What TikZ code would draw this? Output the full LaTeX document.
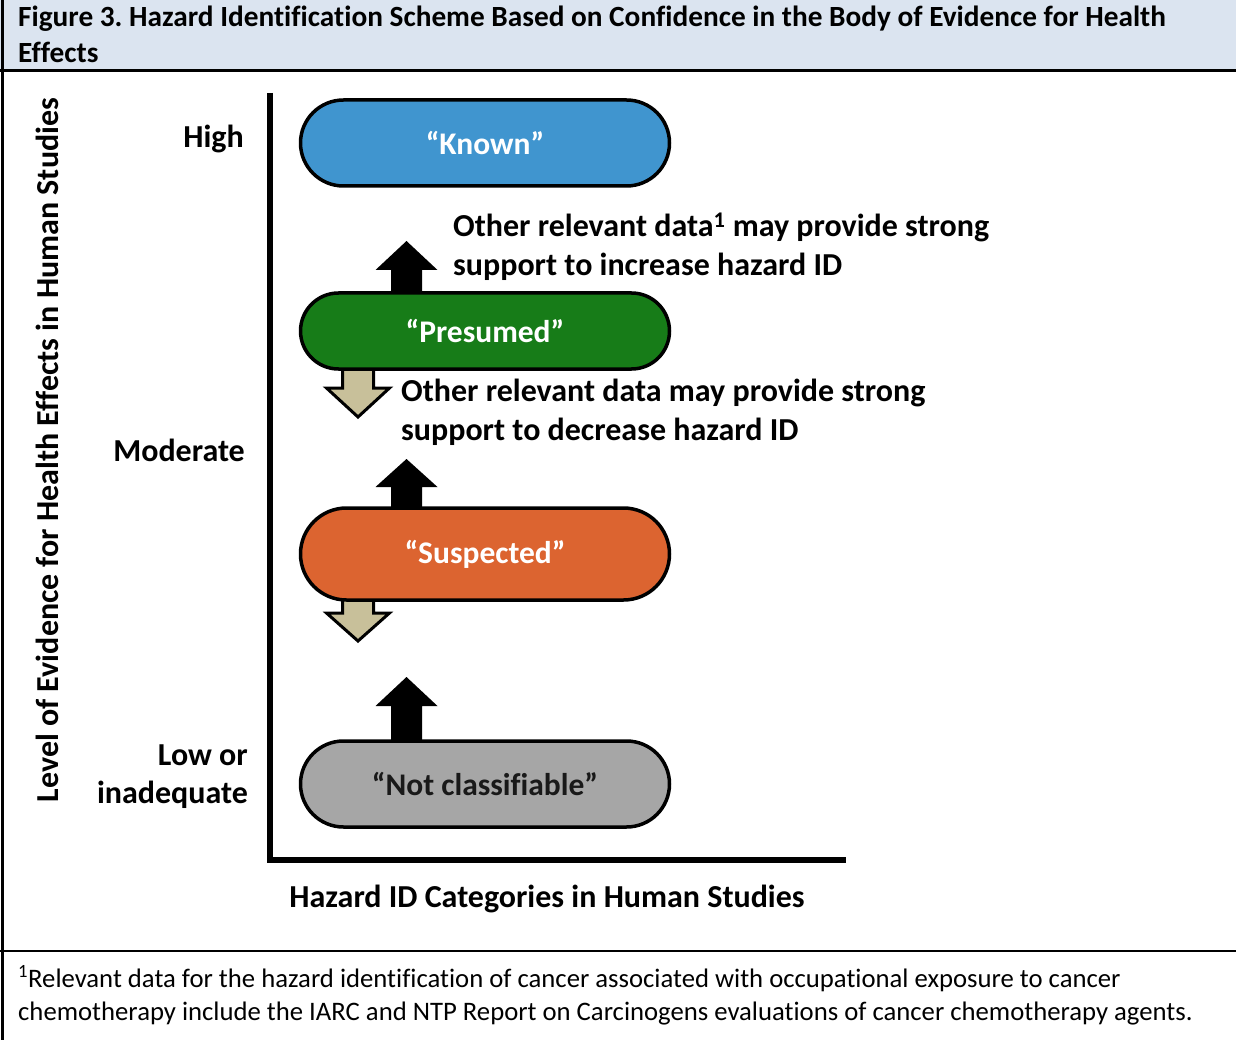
\documentclass[tikz,border=0pt]{standalone}
\usepackage{fontspec}
\setmainfont{Carlito}[Ligatures=CommonOff]
\usetikzlibrary{calc}
\frenchspacing
\definecolor{hdrfill}{HTML}{DBE4F0}
\definecolor{knownc}{HTML}{4095CF}
\definecolor{presc}{HTML}{177C18}
\definecolor{suspc}{HTML}{DC6430}
\definecolor{notc}{HTML}{A6A6A6}
\definecolor{tanc}{HTML}{C8C09A}
\tikzset{
  pill/.style={draw=black, line width=3.5pt, minimum width=369pt, rounded corners=#1, inner sep=0pt, font=\fontsize{31.5}{36}\selectfont\bfseries, text=white},
  uparr/.style={fill=black, draw=none},
  downarr/.style={fill=tanc, draw=black, line width=3pt, line join=miter},
  body/.style={inner sep=0pt, font=\fontsize{32}{36}\selectfont\bfseries},
  foot/.style={inner sep=0pt, font=\fontsize{26.7}{30}\selectfont},
  ttl/.style={inner sep=0pt, font=\fontsize{29.3}{33}\selectfont\bfseries}
}
\begin{document}
\begin{tikzpicture}[x=1pt,y=-1pt]
\useasboundingbox (0,0) rectangle (1236,1040);
% header
\fill[hdrfill] (0,0) rectangle (1236,71);
\draw[line width=3pt] (0,71) -- (1236,71);
\draw[line width=2.5pt] (0,951) -- (1236,951);
\draw[line width=2.5pt] (2.5,0) -- (2.5,1040);
\node[ttl, anchor=base west] (t1) at (18,27) {Figure 3. Hazard Identification Scheme Based on Confidence in the Body of Evidence for Health};
\node[ttl, anchor=base west] (t2) at (18,63) {Effects};
% axes
\coordinate (ytop) at (270,93);
\coordinate (corner) at (270,860);
\coordinate (xend) at (846,860);
\draw[line width=5.5pt] (ytop) -- (corner) -- (xend);
% up arrows (behind pills)
\fill[uparr] (391,300) -- (391,270) -- (375.5,270) -- (406.5,241) -- (437.5,270) -- (422,270) -- (422,300) -- cycle;
\fill[uparr] (391,515) -- (391,487) -- (375.5,487) -- (406.5,459) -- (437.5,487) -- (422,487) -- (422,515) -- cycle;
\fill[uparr] (391,748) -- (391,706) -- (375.5,706) -- (406.5,677) -- (437.5,706) -- (422,706) -- (422,748) -- cycle;
% down arrows
\draw[downarr] (342.5,362) -- (342.5,388) -- (326.5,388) -- (358,417) -- (389.5,388) -- (373.5,388) -- (373.5,362) -- cycle;
\draw[downarr] (342.5,593) -- (342.5,613) -- (326.5,613) -- (358,641) -- (389.5,613) -- (373.5,613) -- (373.5,593) -- cycle;
% pills
\node[pill=43pt, fill=knownc, minimum height=86pt] (known) at (485,143) {“Known”};
\node[pill=38pt, fill=presc, minimum height=76pt] (pres) at (485,331) {“Presumed”};
\node[pill=46pt, fill=suspc, minimum height=92pt] (susp) at (485,554) {“Suspected”};
\node[pill=43pt, fill=notc, minimum height=86pt, text=black!90] (notcl) at (485,784) {“Not classifiable”};
% side texts
\node[body, anchor=base west] (inc1) at (453,237) {Other relevant data\textsuperscript{1} may provide strong};
\node[body, anchor=base west] (inc2) at (453,276) {support to increase hazard ID};
\node[body, anchor=base west] (dec1) at (401,401) {Other relevant data may provide strong};
\node[body, anchor=base west] (dec2) at (401,440) {support to decrease hazard ID};
% level labels
\node[body, anchor=base east] (high) at (244,148) {High};
\node[body, anchor=base east] (mod) at (245,461) {Moderate};
\node[body, anchor=base east] (low1) at (248,765) {Low or};
\node[body, anchor=base east] (low2) at (248,803) {inadequate};
\node[body, anchor=base, rotate=90] (ylab) at (58,450) {Level of Evidence for Health Effects in Human Studies};
\node[body, anchor=base] (xlab) at (547,907) {Hazard ID Categories in Human Studies};
% footnote
\node[foot, anchor=base west] (f1) at (18,987) {\textsuperscript{1}Relevant data for the hazard identification of cancer associated with occupational exposure to cancer};
\node[foot, anchor=base west] (f2) at (18,1020) {chemotherapy include the IARC and NTP Report on Carcinogens evaluations of cancer chemotherapy agents.};
\end{tikzpicture}
\end{document}
